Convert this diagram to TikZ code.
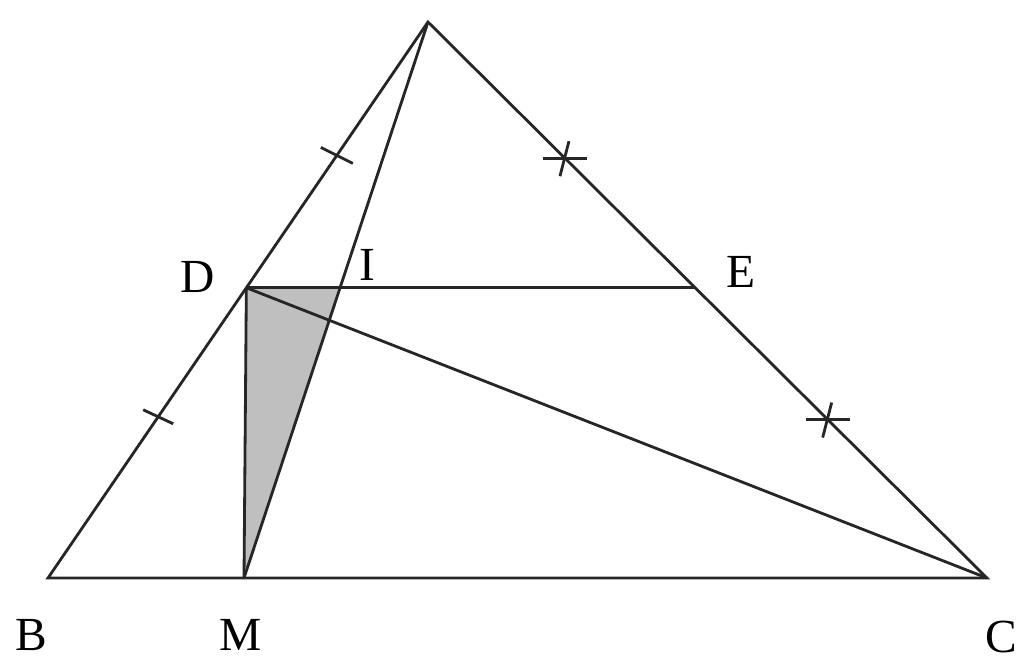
\documentclass[tikz,border=0pt]{standalone}
\usepackage{fontspec}
\setmainfont{Liberation Serif}
\usetikzlibrary{calc}
\tikzset{
	seg/.style={line width=0.8pt, color=black!85},
	lbl/.style={font=\fontsize{13.5}{16}\selectfont, inner sep=0pt}
}

\begin{document}
\begin{tikzpicture}[x=0.01cm, y=-0.01cm]
		%%%%% START %%%%%
		\useasboundingbox (0, 0) rectangle (1024, 663);
		
		\coordinate (A) at (428, 22);
		\coordinate (B) at (48, 578);
		\coordinate (C) at (987, 578);
		\coordinate (M) at (244, 578);
		\coordinate (D) at ($(A)!0.478!(B)$);
		\coordinate (E) at ($(A)!0.478!(C)$);
		\coordinate (I) at (intersection of D--E and A--M);
		
		\fill[black!25] (D) -- (I) -- (M) -- cycle;
		
		\draw[seg] (A) -- (B) -- (C) -- cycle;
		\draw[seg] (D) -- (E);
		\draw[seg] (A) -- (M);
		\draw[seg] (D) -- (M);
		\draw[seg] (D) -- (C);
		
		% equal marks
		\coordinate (t1) at ($(A)!0.24!(B)$);
		\coordinate (t2) at ($(A)!0.71!(B)$);
		\draw[seg] ($(t1)+(-16,-8)$) -- ($(t1)+(16,8)$);
		\draw[seg] ($(t2)+(-15,-7)$) -- ($(t2)+(15,7)$);
		
		\coordinate (t3) at ($(A)!0.245!(C)$);
		\coordinate (t4) at ($(A)!0.715!(C)$);
		\draw[seg] ($(t3)+(-22,0)$) -- ($(t3)+(22,0)$);
		\draw[seg] ($(t3)+(4,-17)$) -- ($(t3)+(-5,18)$);
		\draw[seg] ($(t4)+(-22,0)$) -- ($(t4)+(22,0)$);
		\draw[seg] ($(t4)+(4,-17)$) -- ($(t4)+(-5,18)$);
		
		\node[lbl] (lD) at (198, 277) {D};
		\node[lbl] (lI) at (367, 265) {I};
		\node[lbl] (lE) at (741, 272) {E};
		\node[lbl] (lB) at (31, 635) {B};
		\node[lbl] (lM) at (241, 635) {M};
		\node[lbl] (lC) at (1001, 637) {C};
		
		%%%%% END %%%%%
	\end{tikzpicture}
\end{document}
